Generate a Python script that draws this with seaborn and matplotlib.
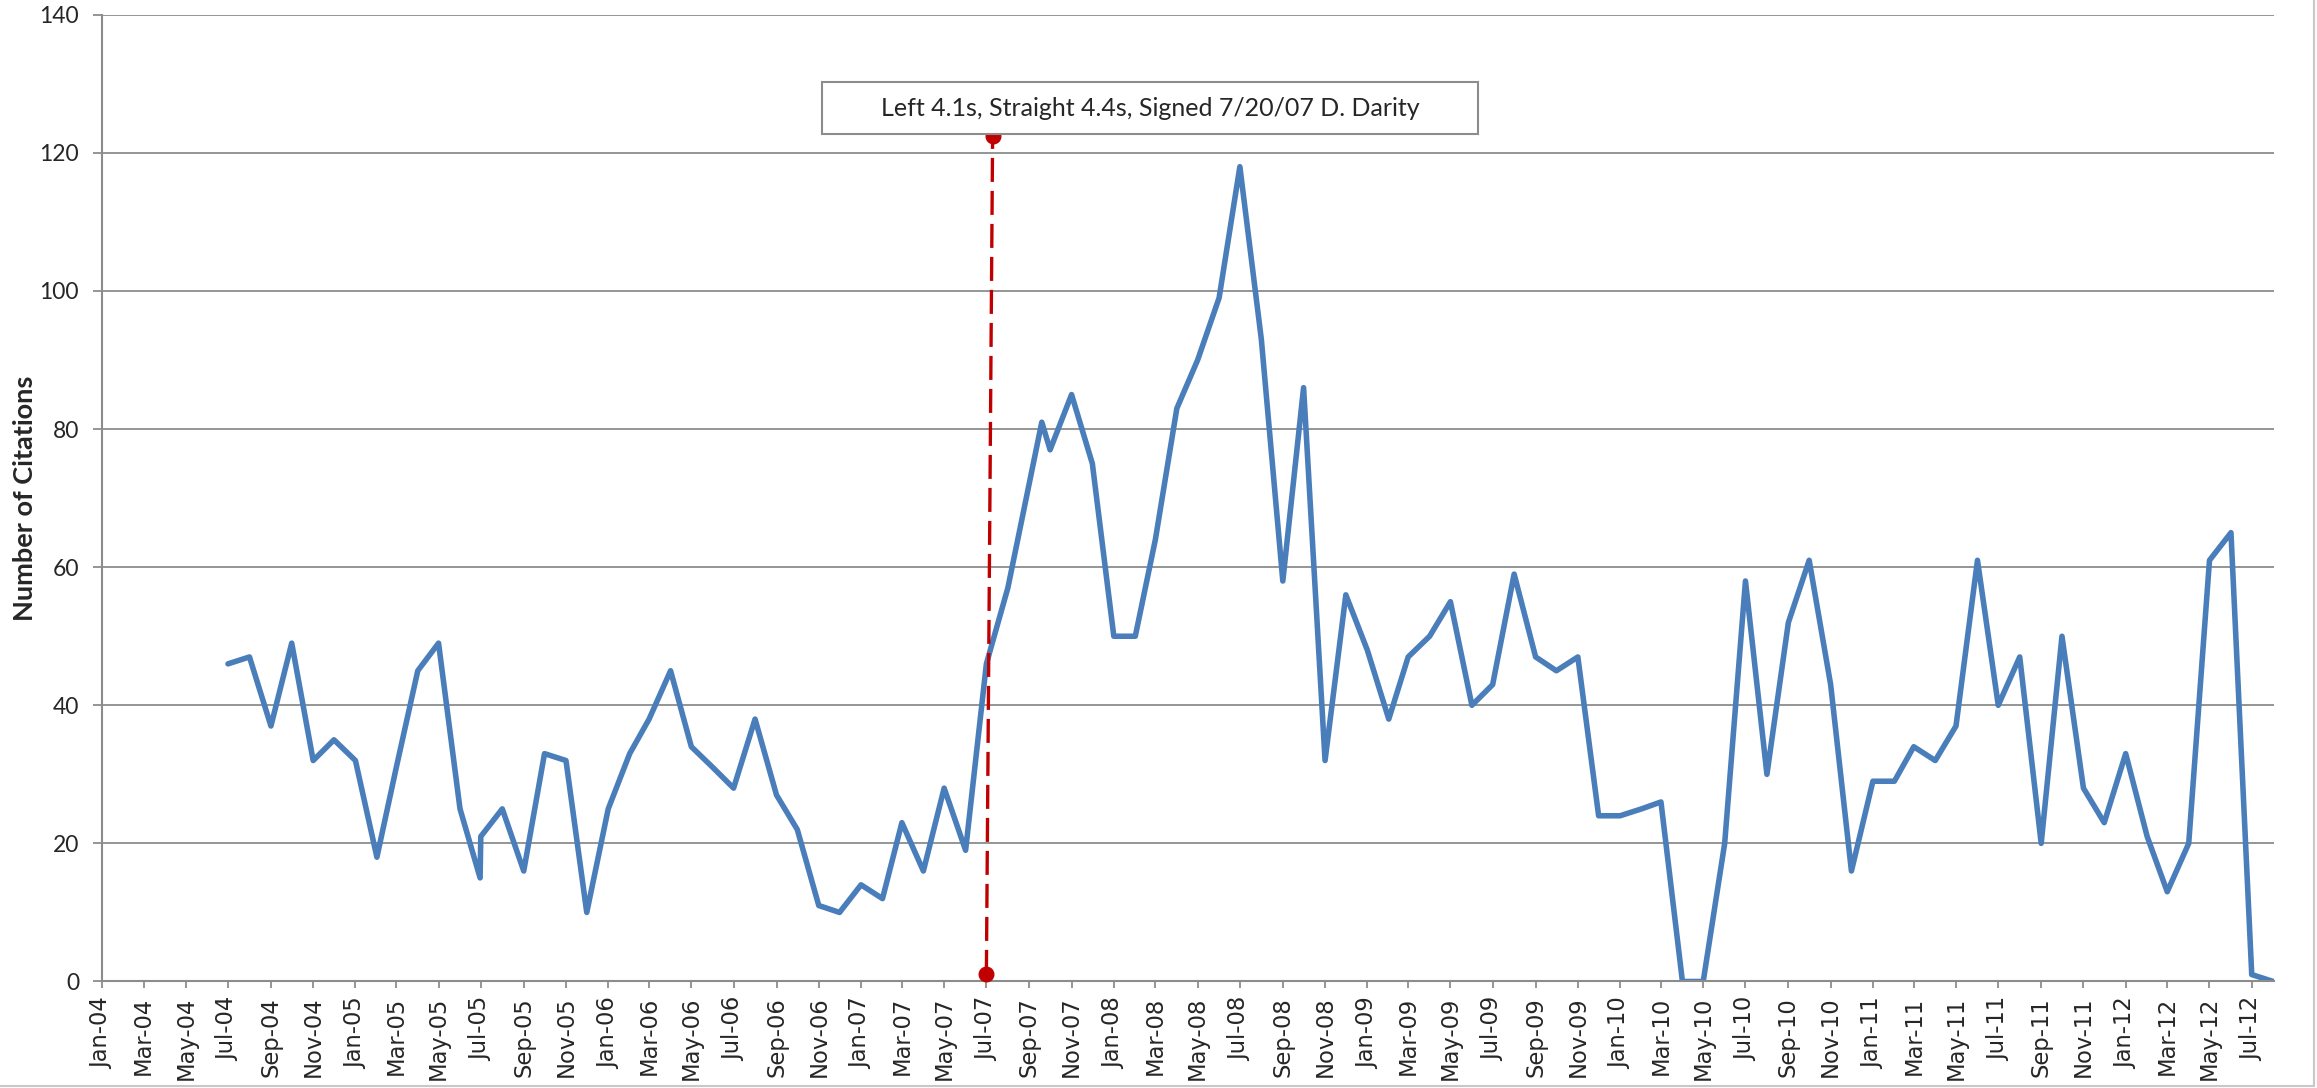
import pandas as pd
import seaborn as sns
import matplotlib.pyplot as plt
import matplotlib.dates as mdates
from matplotlib.patches import Rectangle
from matplotlib.lines import Line2D

# monthly citation counts (a couple of entries fall off the first of the month)
dates = [
    "2004-07-01", "2004-08-01", "2004-09-01", "2004-10-01", "2004-11-01", "2004-12-01",
    "2005-01-01", "2005-02-01", "2005-03-01", "2005-04-01", "2005-05-01", "2005-06-01",
    "2005-06-30", "2005-07-01", "2005-08-01", "2005-09-01", "2005-10-01", "2005-11-01",
    "2005-12-01", "2006-01-01", "2006-02-01", "2006-03-01", "2006-04-01", "2006-05-01",
    "2006-06-01", "2006-07-01", "2006-08-01", "2006-09-01", "2006-10-01", "2006-11-01",
    "2006-12-01", "2007-01-01", "2007-02-01", "2007-03-01", "2007-04-01", "2007-05-01",
    "2007-06-01", "2007-07-01", "2007-08-01", "2007-09-19", "2007-10-01", "2007-11-01",
    "2007-12-01", "2008-01-01", "2008-02-01", "2008-03-01", "2008-04-01", "2008-05-01",
    "2008-06-01", "2008-07-01", "2008-08-01", "2008-09-01", "2008-10-01", "2008-11-01",
    "2008-12-01", "2009-01-01", "2009-02-01", "2009-03-01", "2009-04-01", "2009-05-01",
    "2009-06-01", "2009-07-01", "2009-08-01", "2009-09-01", "2009-10-01", "2009-11-01",
    "2009-12-01", "2010-01-01", "2010-02-01", "2010-03-01", "2010-04-01", "2010-05-01",
    "2010-06-01", "2010-07-01", "2010-08-01", "2010-09-01", "2010-10-01", "2010-11-01",
    "2010-12-01", "2011-01-01", "2011-02-01", "2011-03-01", "2011-04-01", "2011-05-01",
    "2011-06-01", "2011-07-01", "2011-08-01", "2011-09-01", "2011-10-01", "2011-11-01",
    "2011-12-01", "2012-01-01", "2012-02-01", "2012-03-01", "2012-04-01", "2012-05-01",
    "2012-06-01", "2012-07-01", "2012-08-01",
]
citations = [
    46, 47, 37, 49, 32, 35,
    32, 18, 31, 45, 49, 25,
    15, 21, 25, 16, 33, 32,
    10, 25, 33, 38, 45, 34,
    31, 28, 38, 27, 22, 11,
    10, 14, 12, 23, 16, 28,
    19, 46, 57, 81, 77, 85,
    75, 50, 50, 64, 83, 90,
    99, 118, 93, 58, 86, 32,
    56, 48, 38, 47, 50, 55,
    40, 43, 59, 47, 45, 47,
    24, 24, 25, 26, 0, 0,
    20, 58, 30, 52, 61, 43,
    16, 29, 29, 34, 32, 37,
    61, 40, 47, 20, 50, 28,
    23, 33, 21, 13, 20, 61,
    65, 1, 0,
]

# signing annotation
sign_dates = ["2007-07-01", "2007-07-10"]
sign_values = [1.1, 122.5]
sign_text = "Left 4.1s, Straight 4.4s, Signed 7/20/07 D. Darity"

df = pd.DataFrame({"date": pd.to_datetime(dates), "citations": citations})

sns.set_style("white")
plt.rcParams["font.family"] = ["Lato", "DejaVu Sans"]

fig = plt.figure(figsize=(23.17, 10.88), dpi=100)
ax = fig.add_axes([0.0440, 0.0979, 0.9374, 0.8885])

grid_col = "#8c8c8c"
ax.set_axisbelow(True)
ax.yaxis.grid(True, color=grid_col, linewidth=1.3)
ax.xaxis.grid(False)

sns.lineplot(data=df, x="date", y="citations", ax=ax, color="#4a7ebb",
             linewidth=4.0, sort=False, estimator=None)

ax.plot(pd.to_datetime(sign_dates), sign_values, color="#c00000", linewidth=2.4,
        dashes=(7.2, 2.7), zorder=4)
ax.plot(pd.to_datetime(sign_dates), sign_values, "o", color="#c00000",
        markersize=10.5, zorder=5, clip_on=False)

ax.add_patch(Rectangle((0.3314, 0.8771), 0.3021, 0.0534, transform=ax.transAxes,
                       facecolor="white", edgecolor="#8c8c8c", linewidth=1.5,
                       zorder=6, clip_on=False))
ax.text(0.4825, 0.9030, sign_text, transform=ax.transAxes, ha="center", va="center",
        fontsize=18, family=["Lato", "DejaVu Sans"], zorder=7)

ax.set_ylim(0, 140)
ax.set_yticks(range(0, 141, 20))
ax.set_xlim(pd.Timestamp("2004-01-01"), pd.Timestamp("2012-08-02"))
ax.xaxis.set_major_locator(mdates.MonthLocator(bymonth=[1, 3, 5, 7, 9, 11]))
ax.xaxis.set_major_formatter(mdates.DateFormatter("%b-%y"))

for lab in ax.get_xticklabels():
    lab.set_rotation(90)
    lab.set_family("DejaVu Sans")
    lab.set_fontsize(16.3)
for lab in ax.get_yticklabels():
    lab.set_fontsize(16.5)

ax.tick_params(axis="x", direction="out", length=5, width=1.3, color=grid_col, pad=6)
ax.tick_params(axis="y", direction="out", length=6.5, width=1.3, color=grid_col, pad=10)
ax.tick_params(axis="both", bottom=True, left=True)

for side in ["top", "right"]:
    ax.spines[side].set_visible(False)
for side in ["left", "bottom"]:
    ax.spines[side].set_color(grid_col)
    ax.spines[side].set_linewidth(1.5)

ax.set_xlabel("")
ax.set_ylabel("Number of Citations", fontsize=19.5, fontweight="bold")
ax.yaxis.set_label_coords(-0.030, 0.5)

# chart area border (bottom and right edges visible)
fig.add_artist(Line2D([0, 0.9985], [0.0015, 0.0015], transform=fig.transFigure,
                      color="#c8c8c8", linewidth=1.5))
fig.add_artist(Line2D([0.9985, 0.9985], [0.0015, 1], transform=fig.transFigure,
                      color="#c8c8c8", linewidth=1.5))

plt.savefig("out.png", dpi=100)
